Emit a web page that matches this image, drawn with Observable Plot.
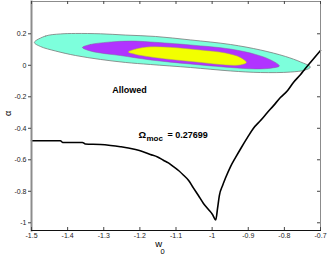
<!DOCTYPE html>
<html><head><meta charset="utf-8">
<script src="https://cdn.jsdelivr.net/npm/d3@7"></script>
<script src="https://cdn.jsdelivr.net/npm/@observablehq/plot@0.6"></script>
<style>body{margin:0;background:#fff} svg{display:block}</style>
</head><body><div id="chart"></div>
<script>
const xTicks = [-1.5,-1.4,-1.3,-1.2,-1.1,-1,-0.9,-0.8,-0.7];
const yTicks = [0.2,0,-0.2,-0.4,-0.6,-0.8,-1];

// contour outlines (w0, alpha)
const outerW = [-1.492,-1.461,-1.420,-1.378,-1.309,-1.240,-1.157,-1.060,-0.949,-0.866,-0.797,-0.755,-0.728,-0.742,-0.783,-0.866,-0.949,-1.060,-1.171,-1.240,-1.309,-1.378,-1.434,-1.475];
const outerA = [0.145,0.186,0.199,0.202,0.200,0.192,0.183,0.161,0.132,0.097,0.056,0.021,-0.011,-0.030,-0.043,-0.046,-0.036,-0.014,0.005,0.018,0.037,0.062,0.091,0.119];
const midW = [-1.359,-1.337,-1.287,-1.226,-1.171,-1.060,-0.949,-0.880,-0.838,-0.814,-0.833,-0.880,-0.949,-1.060,-1.171,-1.254,-1.309,-1.342];
const midA = [0.113,0.132,0.147,0.154,0.148,0.129,0.103,0.069,0.034,-0.004,-0.017,-0.023,-0.014,0.008,0.034,0.062,0.078,0.094];
const innerW = [-1.232,-1.212,-1.171,-1.115,-1.032,-0.963,-0.922,-0.905,-0.922,-0.963,-1.032,-1.115,-1.171,-1.212];
const innerA = [0.084,0.103,0.117,0.114,0.097,0.078,0.050,0.018,0.002,0.002,0.018,0.037,0.053,0.069];

// Omega_moc boundary curve
const curveW = [-1.5,-1.420,-1.414,-1.359,-1.351,-1.309,-1.281,-1.254,-1.232,-1.212,-1.193,-1.171,-1.151,-1.135,-1.121,-1.107,-1.093,-1.079,-1.065,-1.052,-1.038,-1.024,-1.010,-0.999,-0.990,-0.985,-0.980,-0.971,-0.963,-0.949,-0.935,-0.919,-0.902,-0.886,-0.866,-0.847,-0.830,-0.811,-0.791,-0.775,-0.755,-0.742,-0.728,-0.714,-0.700];
const curveA = [-0.479,-0.479,-0.490,-0.490,-0.500,-0.503,-0.509,-0.517,-0.525,-0.535,-0.547,-0.566,-0.582,-0.603,-0.620,-0.644,-0.668,-0.698,-0.731,-0.778,-0.827,-0.877,-0.916,-0.947,-0.982,-0.909,-0.827,-0.763,-0.716,-0.643,-0.585,-0.522,-0.458,-0.401,-0.351,-0.300,-0.256,-0.205,-0.160,-0.109,-0.058,-0.020,0.018,0.056,0.094];

const zip = (W, A) => W.map((w, i) => ({w, a: A[i]}));
const outer = zip(outerW, outerA), mid = zip(midW, midA), inner = zip(innerW, innerA), curve = zip(curveW, curveA);
const fmt = d => String(d);

const chart = Plot.plot({
  width: 327, height: 256,
  marginLeft: 31, marginRight: 7, marginTop: 1, marginBottom: 26,
  x: {domain: [-1.5, -0.7]},
  y: {domain: [-1.049, 0.405]},
  style: {fontFamily: "'Liberation Sans', Arial, sans-serif", background: "white", color: "#222"},
  marks: [
    Plot.line(outer, {x: "w", y: "a", curve: "catmull-rom-closed", fill: "#7dffdc", stroke: "#7a7a7a", strokeWidth: 0.8}),
    Plot.line(mid, {x: "w", y: "a", curve: "catmull-rom-closed", fill: "#b133ff", stroke: "#8a5aa0", strokeWidth: 0.5}),
    Plot.line(inner, {x: "w", y: "a", curve: "catmull-rom-closed", fill: "#f2ff00", stroke: "#a0a060", strokeWidth: 0.5}),
    Plot.line(curve, {x: "w", y: "a", stroke: "black", strokeWidth: 1.6, curve: "monotone-x"}),
    Plot.frame({stroke: "#8c8c8c"}),
    Plot.frame({anchor: "left", stroke: "#8c8c8c", strokeWidth: 2}),
    Plot.frame({anchor: "bottom", stroke: "#111"}),
    Plot.tickX(xTicks, {x: d => d, insetTop: 226, stroke: "#444"}),
    Plot.tickX(xTicks, {x: d => d, insetBottom: 226, stroke: "#444"}),
    Plot.tickY(yTicks, {y: d => d, insetLeft: 286, stroke: "#444"}),
    Plot.axisX(xTicks, {tickSize: 0, tickPadding: 3, fontSize: 7, tickFormat: fmt, label: null}),
    Plot.axisY(yTicks, {tickSize: 3, tickPadding: 2, fontSize: 7, tickFormat: fmt, label: null, stroke: "#444"}),
    Plot.text(["Allowed"], {x: -1.229, y: -0.16, fontWeight: "bold", fontSize: 9, fill: "black"}),
    Plot.text(["Ω"], {x: -1.204, y: -0.444, textAnchor: "start", fontWeight: "bold", fontSize: 9.5, fill: "black"}),
    Plot.text(["moc"], {x: -1.204, y: -0.444, dx: 8, dy: 3, textAnchor: "start", fontWeight: "bold", fontSize: 8, fill: "black"}),
    Plot.text(["= 0.27699"], {x: -1.204, y: -0.444, dx: 29, textAnchor: "start", fontWeight: "bold", fontSize: 9, fill: "black"}),
    Plot.text(["w"], {x: -1.148, frameAnchor: "bottom", dy: 16, fontSize: 9.5, fill: "black"}),
    Plot.text(["0"], {x: -1.148, frameAnchor: "bottom", dx: 4, dy: 23, fontSize: 7.5, fill: "black"}),
    Plot.text(["α"], {frameAnchor: "left", dx: -23, rotate: -90, fontSize: 9, fill: "black"})
  ]
});
document.getElementById("chart").appendChild(chart);
</script>
</body></html>
